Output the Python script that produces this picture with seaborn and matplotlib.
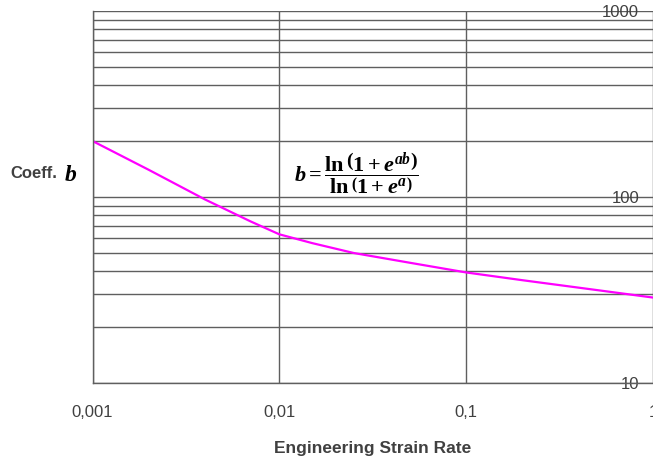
import matplotlib
matplotlib.use("Agg")
import matplotlib.pyplot as plt
import seaborn as sns
import pandas as pd
from matplotlib.ticker import FixedLocator, FixedFormatter, NullLocator, NullFormatter

# ---- data ----
strain_rate = [0.001, 0.002, 0.004, 0.007, 0.01, 0.015, 0.025, 0.05, 0.1, 0.2, 0.5, 1.0]
coeff_b = [200, 140, 97, 74, 63, 56.5, 50, 44.3, 39.3, 35.7, 31.6, 28.8]

x_ticks = [0.001, 0.01, 0.1, 1]
x_tick_labels = ["0,001", "0,01", "0,1", "1"]
y_ticks = [10, 100, 1000]
y_tick_labels = ["10", "100", "1000"]
y_minor = [20, 30, 40, 50, 60, 70, 80, 90, 200, 300, 400, 500, 600, 700, 800, 900]

df = pd.DataFrame({"rate": strain_rate, "b": coeff_b})

sns.set_style("white")
plt.rcParams["font.family"] = ["Liberation Sans", "DejaVu Sans"]
plt.rcParams["mathtext.fontset"] = "custom"
plt.rcParams["mathtext.it"] = "Liberation Serif:bold:italic"
plt.rcParams["mathtext.rm"] = "Liberation Serif:bold"
plt.rcParams["mathtext.bf"] = "Liberation Serif:bold"

W, H = 653, 457
fig = plt.figure(figsize=(W / 100, H / 100), dpi=100)
ax = fig.add_axes([92.5 / W, 1 - 383 / H, (653 - 92.5) / W, (383 - 11) / H])

sns.lineplot(data=df, x="rate", y="b", ax=ax, color="#ff00ff", linewidth=1.6)

ax.set_xscale("log")
ax.set_yscale("log")
ax.set_xlim(0.001, 1)
ax.set_ylim(10, 1000)

grid_c = "#5f5f5f"
ax.xaxis.set_major_locator(FixedLocator(x_ticks))
ax.xaxis.set_major_formatter(FixedFormatter(x_tick_labels))
ax.xaxis.set_minor_locator(NullLocator())
ax.yaxis.set_major_locator(FixedLocator(y_ticks))
ax.yaxis.set_major_formatter(FixedFormatter(y_tick_labels))
ax.yaxis.set_minor_locator(FixedLocator(y_minor))
ax.yaxis.set_minor_formatter(NullFormatter())

ax.grid(True, which="major", axis="both", color=grid_c, linewidth=1.0)
ax.grid(True, which="minor", axis="y", color=grid_c, linewidth=1.0)
ax.set_axisbelow(True)

for s in ["top", "right"]:
    ax.spines[s].set_visible(False)
for s in ["left", "bottom"]:
    ax.spines[s].set_color(grid_c)
    ax.spines[s].set_linewidth(1.0)

ax.tick_params(axis="x", which="major", direction="out", length=6, width=1,
               color=grid_c, labelsize=12, labelcolor="#404040", pad=10)
ax.yaxis.tick_right()
ax.tick_params(axis="y", which="both", length=0, labelsize=12, labelcolor="#404040",
               pad=-10)
for lab in ax.get_yticklabels():
    lab.set_horizontalalignment("right")

ax.set_ylabel("")
ax.set_xlabel("Engineering Strain Rate", fontsize=12.5, fontweight="bold",
              color="#404040", labelpad=15)

fig.text(10 / W, 1 - 173 / H, "Coeff.", fontsize=12, fontweight="bold",
         color="#404040", ha="left", va="center")
fig.text(64 / W, 1 - 175 / H, r"$b$", fontsize=17, color="black",
         ha="left", va="center")
fig.text(356 / W, 1 - 173 / H,
         r"$b=\dfrac{\ln\left(1+e^{ab}\right)}{\ln\left(1+e^{a}\right)}$",
         fontsize=16, color="black", ha="center", va="center")

fig.savefig("out.png", dpi=100)
